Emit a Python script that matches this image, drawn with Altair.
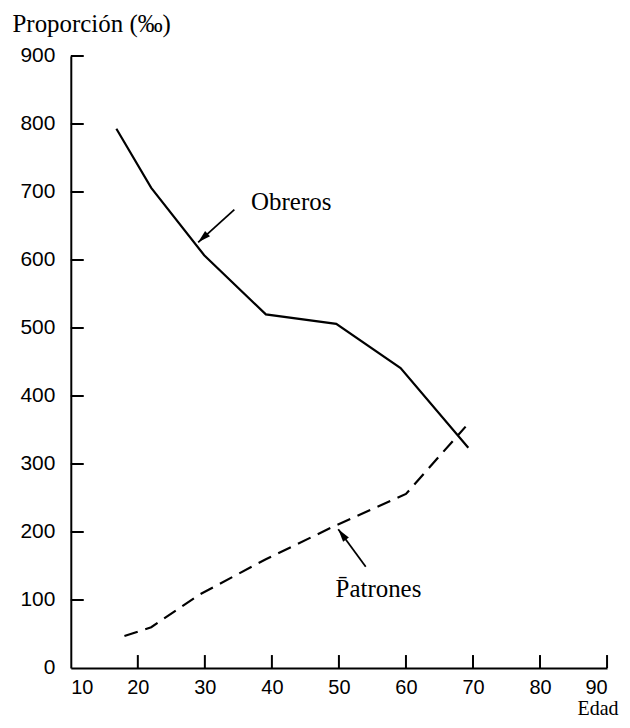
import altair as alt
import pandas as pd

# Data
obreros_age = [16.8, 22.0, 29.9, 39.1, 49.6, 59.2, 69.3]
obreros_val = [793, 706, 607, 520, 506, 441, 324]
patrones_age = [18.0, 22.0, 29.2, 39.1, 49.6, 60.0, 68.9]
patrones_val = [47, 60, 108, 160, 210, 256, 355]

x_ticks = [10, 20, 30, 40, 50, 60, 70, 80, 90]
y_ticks = [0, 100, 200, 300, 400, 500, 600, 700, 800, 900]

# annotations (data units)
label_text = ["Obreros", "P\u0304atrones"]
label_x = [36.9, 49.5]
label_y = [674, 105]
arrow_x0 = [34.4, 54.0]
arrow_y0 = [674, 149]
arrow_x1 = [29.0, 49.9]
arrow_y1 = [626, 204]
arrow_angle = [227, 323]

W, H = 538, 614
xs = alt.Scale(domain=[10, 90], nice=False, zero=False)
ys = alt.Scale(domain=[0, 900], nice=False, zero=True)

df_o = pd.DataFrame({"edad": obreros_age, "v": obreros_val})
df_p = pd.DataFrame({"edad": patrones_age, "v": patrones_val})
df_xt = pd.DataFrame({"t": x_ticks[1:]})
df_yt = pd.DataFrame({"t": y_ticks[1:]})
df_lab = pd.DataFrame({"x": label_x, "y": label_y, "txt": label_text})
df_arr = pd.DataFrame({"x0": arrow_x0, "y0": arrow_y0, "x1": arrow_x1,
                       "y1": arrow_y1, "ang": arrow_angle})

serif = "Liberation Serif"
sans = "Liberation Sans"

ax_x = alt.Axis(
    values=x_ticks, ticks=False, tickSize=0, grid=False,
    labelFont=sans, labelFontSize=20, labelColor="black", labelPadding=10,
    domainColor="black", domainWidth=2,
    title="Edad", titleFont=serif, titleFontSize=20, titleFontWeight="normal",
    titleColor="black", titleAlign="right", titleBaseline="alphabetic",
    titleX=549, titleY=47)
ax_y = alt.Axis(
    values=y_ticks, ticks=False, tickSize=0, grid=False,
    labelFont=sans, labelFontSize=21, labelColor="black", labelPadding=16,
    domainColor="black", domainWidth=2,
    title="Proporción (‰)", titleFont=serif, titleFontSize=25,
    titleFontWeight="normal", titleColor="black", titleAngle=0,
    titleAlign="left", titleBaseline="alphabetic", titleX=-59, titleY=-25)


def X(f):
    return alt.X(f, scale=xs, axis=ax_x, title="Edad")


def Y(f):
    return alt.Y(f, scale=ys, axis=ax_y, title="Proporción (‰)")


obreros = alt.Chart(df_o).mark_line(color="black", strokeWidth=2.2).encode(
    x=X("edad:Q"), y=Y("v:Q"),
)

patrones = alt.Chart(df_p).mark_line(color="black", strokeWidth=2.2,
                                     strokeDash=[14, 8]).encode(
    x=X("edad:Q"), y=Y("v:Q"),
)

xtick = alt.Chart(df_xt).mark_rule(color="black", strokeWidth=2).encode(
    x=X("t:Q"),
    y=alt.value(H), y2=alt.value(H - 13),
)
ytick = alt.Chart(df_yt).mark_rule(color="black", strokeWidth=2).encode(
    y=Y("t:Q"),
    x=alt.value(0), x2=alt.value(13),
)

arrows = alt.Chart(df_arr).mark_rule(color="black", strokeWidth=1.8).encode(
    x=X("x0:Q"), y=Y("y0:Q"),
    x2="x1:Q", y2="y1:Q",
)
heads = alt.Chart(df_arr).mark_point(
    shape="M0,0L0.45,1.6L-0.45,1.6Z", filled=True, color="black",
    size=260, opacity=1, strokeWidth=0).encode(
    x=X("x1:Q"), y=Y("y1:Q"),
    angle=alt.Angle("ang:Q", scale=None),
)

labels = alt.Chart(df_lab).mark_text(
    font=serif, fontSize=25, color="black", align="left",
    baseline="alphabetic").encode(
    x=X("x:Q"), y=Y("y:Q"),
    text="txt:N",
)

chart = alt.layer(obreros, patrones, xtick, ytick, arrows, heads, labels).properties(
    width=W, height=H,
    autosize=alt.AutoSizeParams(type="none"),
    padding={"left": 63, "top": 47, "right": 15, "bottom": 51},
    background="white",
).configure_view(stroke=None)

chart.save("out.html", embed_options={"renderer": "svg", "actions": False})
